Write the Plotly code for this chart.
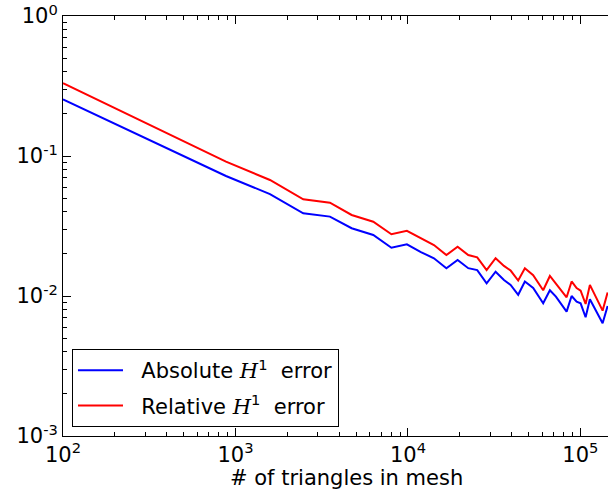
import plotly.graph_objects as go

n_triangles = [100, 881, 1585, 2472, 3530, 4717, 6295, 8020, 9863, 11890, 14150,
               16710, 19410, 22370, 25220, 28590, 32230, 36040, 39390, 43580, 47640,
               53230, 60840, 66530, 72110, 83180, 88920, 95060, 100300, 107200,
               113500, 134500, 143800]
abs_err = [0.254, 0.0720, 0.0535, 0.0390, 0.0369, 0.0305, 0.0273, 0.0221, 0.0234,
           0.0206, 0.0186, 0.0158, 0.0181, 0.0158, 0.0153, 0.0123, 0.0149, 0.0130,
           0.0120, 0.0102, 0.0127, 0.0114, 0.00887, 0.0110, 0.00989, 0.00773,
           0.0100, 0.00910, 0.00887, 0.00705, 0.00947, 0.00638, 0.00849]
rel_err = [0.331, 0.0911, 0.0674, 0.0491, 0.0464, 0.0379, 0.0339, 0.0276, 0.0292,
           0.0258, 0.0231, 0.0196, 0.0225, 0.0196, 0.0189, 0.0153, 0.0186, 0.0164,
           0.0152, 0.0129, 0.0158, 0.0141, 0.0110, 0.0139, 0.0123, 0.00979,
           0.0127, 0.0114, 0.0109, 0.00877, 0.0120, 0.00786, 0.0106]

x_tickvals = [1e2, 1e3, 1e4, 1e5]
x_ticktext = ["10<sup>2</sup>", "10<sup>3</sup>", "10<sup>4</sup>", "10<sup>5</sup>"]
y_tickvals = [1e-3, 1e-2, 1e-1, 1e0]
y_ticktext = ["10<sup>-3</sup>", "10<sup>-2</sup>", "10<sup>-1</sup>", "10<sup>0</sup>"]

x_minor = [m * 10 ** e for e in range(2, 6) for m in range(2, 10)]
y_minor = [m * 10.0 ** e for e in range(-3, 0) for m in range(2, 10)]

x_title = "# of triangles in mesh"
H = "<span style='font-family:DejaVu Serif'><i>H</i></span><sup>1</sup>"
NB = "\u00a0"

fig = go.Figure()
fig.add_trace(go.Scatter(x=n_triangles, y=abs_err, mode="lines",
                         line=dict(color="#0000ff", width=2),
                         legendgroup="a",
                         name=NB * 2 + "Absolute " + H + "  error"))
fig.add_trace(go.Scatter(x=n_triangles, y=rel_err, mode="lines",
                         line=dict(color="#ff0000", width=2),
                         legendgroup="b",
                         name=NB * 2 + "Relative " + H + "  error"))
# invisible carrier trace for the minor-tick overlay axes
fig.add_trace(go.Scatter(x=[n_triangles[0]], y=[abs_err[0]], xaxis="x2", yaxis="y2",
                         mode="markers", marker=dict(opacity=0), showlegend=False,
                         hoverinfo="skip"))

X_RANGE = [2, 5.16]
Y_RANGE = [-3, 0]

axis_common = dict(
    showgrid=False, zeroline=False, showline=True, linecolor="black", linewidth=1,
    ticks="inside", ticklen=8, tickwidth=1, tickcolor="black",
    automargin=False,
    tickfont=dict(family="DejaVu Sans", size=21, color="black"),
)
minor_common = dict(
    showgrid=False, zeroline=False, showline=True, linecolor="black", linewidth=1,
    ticks="inside", ticklen=4, tickwidth=1, tickcolor="black",
    automargin=False, showticklabels=False,
)

fig.update_layout(
    xaxis=dict(type="log", range=X_RANGE, tickvals=x_tickvals, ticktext=x_ticktext,
               mirror="ticks", **axis_common),
    yaxis=dict(type="log", range=Y_RANGE, tickvals=y_tickvals, ticktext=y_ticktext,
               mirror=False, **axis_common),
    xaxis2=dict(type="log", range=X_RANGE, tickvals=x_minor, overlaying="x",
                anchor="y2", side="bottom", mirror="ticks", **minor_common),
    yaxis2=dict(type="log", range=Y_RANGE, tickvals=y_minor, overlaying="y",
                anchor="x2", side="left", mirror=False, **minor_common),
    annotations=[dict(text=x_title, xref="paper", yref="paper", x=0.521, y=-0.1,
                      xanchor="center", yanchor="middle", showarrow=False,
                      font=dict(family="DejaVu Sans", size=21, color="black"))],
    width=608, height=495,
    margin=dict(l=63, r=0, t=16, b=59),
    paper_bgcolor="white", plot_bgcolor="white",
    font=dict(family="DejaVu Sans", size=20, color="black"),
    showlegend=True,
    legend=dict(x=0.0165, y=0.207, xanchor="left", yanchor="top",
                bgcolor="white", bordercolor="black", borderwidth=1,
                font=dict(family="DejaVu Sans", size=21, color="black"),
                traceorder="grouped", tracegroupgap=5,
                itemwidth=45),
)

fig.write_html("out.html", config={"displayModeBar": False},
               post_script="document.body.style.margin='0';document.body.style.overflow='hidden';")
